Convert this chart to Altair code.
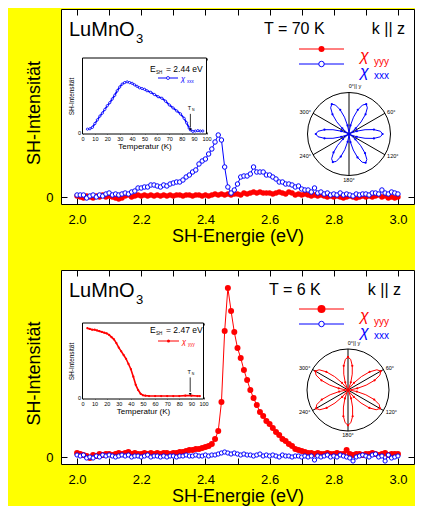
import altair as alt
import pandas as pd

RED = "#FF0000"
BLUE = "#0000FF"
FONT = "Liberation Sans"

# ---------------- main spectra (SH intensity, arbitrary units) ----------------
energy = [round(2.0 + 0.01 * i, 2) for i in range(101)]
tick_values = [2.0, 2.1, 2.2, 2.3, 2.4, 2.5, 2.6, 2.7, 2.8, 2.9, 3.0]

top_yyy = [0.01, 0.00, -0.01, 0.01, 0.00, -0.01, 0.01, 0.00, 0.02, 0.00,
           0.01, 0.00, -0.01, -0.02, -0.01, 0.01, 0.02, 0.00, 0.01, 0.02,
           0.01, 0.02, 0.01, 0.02, 0.01, 0.02, 0.01, 0.02, 0.01, 0.02,
           0.01, 0.02, 0.02, 0.01, 0.02, 0.02, 0.01, 0.02, 0.02, 0.01,
           0.02, 0.01, 0.02, 0.03, 0.02, 0.03, 0.02, 0.03, 0.02, 0.03,
           0.03, 0.02, 0.04, 0.03, 0.04, 0.05, 0.04, 0.05, 0.04, 0.04,
           0.04, 0.03, 0.04, 0.05, 0.04, 0.03, 0.05, 0.04, 0.02, 0.03,
           0.02, 0.03, 0.02, 0.01, 0.02, 0.01, 0.02, 0.01, 0.00, 0.01,
           0.00, 0.01, 0.00, -0.01, 0.00, 0.01, 0.00, -0.01, 0.00, 0.01,
           0.00, 0.01, 0.00, 0.01, 0.02, 0.00, 0.01, -0.01, 0.00, -0.01, 0.00]
top_xxx = [0.02, 0.02, 0.02, -0.01, 0.01, 0.02, 0.00, 0.02, 0.01, 0.03,
           0.04, 0.02, 0.03, 0.02, 0.03, 0.04, 0.03, 0.05, 0.06, 0.09,
           0.09, 0.10, 0.10, 0.12, 0.12, 0.11, 0.10, 0.12, 0.11, 0.13,
           0.14, 0.15, 0.15, 0.17, 0.20, 0.22, 0.25, 0.27, 0.33, 0.36,
           0.38, 0.43, 0.48, 0.55, 0.62, 0.57, 0.30, 0.10, 0.04, 0.07,
           0.13, 0.20, 0.21, 0.21, 0.23, 0.30, 0.25, 0.25, 0.25, 0.22,
           0.22, 0.20, 0.18, 0.15, 0.15, 0.13, 0.13, 0.12, 0.10, 0.11,
           0.08, 0.07, 0.07, 0.05, 0.09, 0.04, 0.05, 0.03, 0.04, 0.02,
           0.03, 0.02, 0.04, 0.02, 0.03, 0.02, 0.01, 0.03, 0.02, 0.03,
           0.03, 0.02, 0.04, 0.04, 0.03, 0.07, 0.04, 0.03, 0.05, 0.04, 0.03]
bot_yyy = [0.04, 0.03, 0.02, 0.01, -0.01, 0.02, 0.01, 0.03, 0.02, 0.03,
           0.03, 0.02, 0.03, 0.04, 0.03, 0.04, 0.05, 0.03, 0.04, 0.03,
           0.03, 0.04, 0.03, 0.04, 0.03, 0.04, 0.03, 0.04, 0.04, 0.03,
           0.04, 0.04, 0.05, 0.05, 0.06, 0.07, 0.07, 0.08, 0.08, 0.09,
           0.10, 0.11, 0.13, 0.18, 0.26, 0.55, 1.26, 1.69, 1.46, 1.25,
           1.09, 0.99, 0.87, 0.77, 0.67, 0.59, 0.52, 0.45, 0.41, 0.36,
           0.33, 0.29, 0.25, 0.22, 0.18, 0.16, 0.13, 0.11, 0.08, 0.07,
           0.06, 0.05, 0.04, 0.04, 0.03, 0.04, 0.03, 0.03, 0.04, 0.03,
           0.03, 0.04, 0.03, 0.03, 0.07, 0.03, 0.02, 0.03, 0.03, 0.02,
           0.03, 0.03, 0.04, 0.03, 0.02, 0.03, 0.04, 0.02, 0.03, 0.03, 0.03]
bot_xxx = [0.02, 0.01, 0.02, -0.01, 0.00, -0.01, 0.01, 0.00, 0.02, 0.01,
           0.02, 0.01, 0.00, 0.01, 0.02, 0.01, 0.02, 0.00, 0.01, 0.01,
           0.00, 0.01, 0.02, 0.00, 0.01, 0.01, 0.00, 0.01, 0.00, 0.01,
           0.01, 0.00, 0.01, 0.01, 0.02, 0.01, 0.01, 0.02, 0.01, 0.01,
           0.02, 0.01, 0.02, 0.02, 0.03, 0.04, 0.05, 0.04, 0.03, 0.04,
           0.03, 0.02, 0.03, 0.02, 0.02, 0.01, 0.02, 0.03, 0.01, 0.02,
           0.01, 0.02, 0.01, 0.00, 0.02, 0.01, 0.01, 0.00, 0.01, 0.01,
           0.00, 0.01, 0.00, 0.01, -0.03, 0.01, 0.00, 0.01, 0.02, 0.00,
           0.01, 0.00, 0.02, 0.01, 0.00, -0.01, -0.04, 0.00, 0.01, 0.02,
           0.01, 0.00, 0.02, 0.03, 0.00, 0.01, -0.04, 0.02, -0.01, 0.00, 0.01]

# ---------------- inset temperature dependences ----------------
temp_top = [4, 6, 8, 10, 12, 14, 16, 18, 20, 22, 24, 26, 28, 30, 32, 34, 36, 38, 40,
            42, 44, 46, 48, 50, 52, 55, 58, 61, 64, 67, 70, 73, 76, 79, 82, 84, 86,
            87, 89, 91, 93, 95, 97]
int_top = [0.045, 0.05, 0.07, 0.12, 0.17, 0.22, 0.26, 0.31, 0.36, 0.40, 0.45, 0.50,
           0.56, 0.61, 0.65, 0.67, 0.68, 0.67, 0.66, 0.64, 0.62, 0.60, 0.59, 0.58,
           0.56, 0.54, 0.51, 0.48, 0.46, 0.42, 0.37, 0.33, 0.29, 0.25, 0.19, 0.13,
           0.06, 0.035, 0.015, 0.02, 0.025, 0.02, 0.02]
temp_bot = [4, 6, 8, 10, 12, 14, 16, 18, 20, 22, 24, 26, 28, 30, 32, 34, 36, 38, 40,
            42, 44, 46, 48, 50, 52, 55, 60, 65, 70, 75, 80, 85, 90, 95, 97]
int_bot = [0.93, 0.92, 0.91, 0.91, 0.90, 0.89, 0.88, 0.87, 0.86, 0.84, 0.81, 0.78,
           0.73, 0.67, 0.62, 0.57, 0.52, 0.45, 0.38, 0.28, 0.17, 0.10, 0.05, 0.03,
           0.025, 0.02, 0.02, 0.02, 0.02, 0.02, 0.02, 0.025, 0.025, 0.02, 0.02]

# ---------------- polar (azimuthal) dependences ----------------
rose_angle = list(range(0, 361, 5))
rose_top = [0.00, 0.06, 0.21, 0.42, 0.62, 0.77, 0.83, 0.77, 0.62, 0.41, 0.21, 0.05,
            0.00, 0.05, 0.20, 0.40, 0.61, 0.76, 0.81, 0.76, 0.61, 0.40, 0.20, 0.05,
            0.00, 0.05, 0.20, 0.40, 0.60, 0.75, 0.80, 0.75, 0.60, 0.40, 0.20, 0.05,
            0.00, 0.05, 0.19, 0.39, 0.58, 0.73, 0.78, 0.73, 0.58, 0.39, 0.19, 0.05,
            0.00, 0.05, 0.20, 0.40, 0.60, 0.75, 0.80, 0.75, 0.60, 0.40, 0.20, 0.05,
            0.00, 0.06, 0.21, 0.42, 0.62, 0.77, 0.83, 0.77, 0.62, 0.42, 0.21, 0.06,
            0.00]
rose_bot = [0.80, 0.75, 0.60, 0.40, 0.20, 0.05, 0.00, 0.06, 0.23, 0.46, 0.69, 0.86,
            0.92, 0.86, 0.69, 0.46, 0.23, 0.06, 0.00, 0.06, 0.22, 0.45, 0.68, 0.84,
            0.90, 0.84, 0.68, 0.45, 0.22, 0.06, 0.00, 0.06, 0.22, 0.43, 0.65, 0.80,
            0.86, 0.80, 0.65, 0.43, 0.22, 0.06, 0.00, 0.06, 0.22, 0.45, 0.68, 0.84,
            0.90, 0.84, 0.68, 0.45, 0.22, 0.06, 0.00, 0.06, 0.23, 0.46, 0.69, 0.86,
            0.92, 0.86, 0.69, 0.46, 0.23, 0.06, 0.00, 0.05, 0.20, 0.40, 0.60, 0.75,
            0.80]
axis_angles = [0, 60, 120]
label_angles = [0, 60, 120, 180, 240, 300]
label_texts = ["0°|| y", "60°", "120°", "180°", "240°", "300°"]

W = 353
ONE = pd.DataFrame({"k": [0]})


def vtext(txt, x, y, size, color="black", align="left", style="normal"):
    return alt.Chart(ONE).mark_text(text=txt, fontSize=size, color=color, align=align,
                                    baseline="alphabetic", font=FONT, fontStyle=style).encode(
        x=alt.value(x), y=alt.value(y))


def build_panel(H, ydom, yyy, xxx, rsize, bsize, c):
    df = pd.DataFrame({"E": energy, "yyy": yyy, "xxx": xxx})

    def sx():
        return alt.Scale(domain=[1.95, 3.05], nice=False, zero=False)

    def sy():
        return alt.Scale(domain=ydom, nice=False, zero=False)

    b = c["box"]

    def ix():
        return alt.Scale(domain=[0, 100], range=[b[0], b[1]], nice=False, zero=False)

    def iy():
        return alt.Scale(domain=[-0.02, 1.0], range=[b[3], b[2]], nice=False, zero=False)

    cx, cy, r = c["polar"]

    def px():
        return alt.Scale(domain=[-1, 1], range=[cx - r, cx + r], nice=False, zero=False)

    def py():
        return alt.Scale(domain=[-1, 1], range=[cy + r, cy - r], nice=False, zero=False)

    layers = []

    # inset frame (+ top ticks)
    fdf = pd.DataFrame({"a": [0], "b": [100], "c": [-0.02], "d": [1.0]})
    layers.append(alt.Chart(fdf).mark_rect(fill="white", stroke="black", strokeWidth=1).encode(
        x=alt.X("a:Q", scale=ix(), axis=alt.Axis(orient="top", values=list(range(0, 101, 10)),
                                                  labels=False, offset=-(b[2] + 2), tickSize=2,
                                                  tickWidth=0.7, title=None)),
        x2="b:Q",
        y=alt.Y("c:Q", scale=iy(), axis=None),
        y2="d:Q"))

    # inset curve
    idf = pd.DataFrame({"T": c["T"], "I": c["I"]})
    icol = c["icolor"]
    if c["ifilled"]:
        ipt = alt.OverlayMarkDef(filled=True, color=icol, size=5)
    else:
        ipt = alt.OverlayMarkDef(filled=True, fill="white", stroke=icol, strokeWidth=0.8, size=5)
    layers.append(alt.Chart(idf).mark_line(color=icol, strokeWidth=1.6, point=ipt).encode(
        x=alt.X("T:Q", scale=ix(), axis=alt.Axis(
            orient="bottom", values=list(range(0, 101, 10)), offset=b[3] - 2 - H, tickSize=2,
            tickWidth=0.7, labelFontSize=5.5, labelPadding=2, title="Temperatur (K)",
            titleFontSize=8, titlePadding=1)),
        y=alt.Y("I:Q", scale=iy(), axis=alt.Axis(
            orient="left", values=[0], offset=-(b[0] + 2), tickSize=2, tickWidth=0.7,
            labelFontSize=5.5, labelPadding=2, title="SH-Intensität", titleFontSize=6.5,
            titlePadding=3))))

    # T_N arrow
    tn_T, tn_tail, tn_head, tn_lab = c["tn"]
    adf = pd.DataFrame({"T": [tn_T], "y0": [tn_tail], "y1": [tn_head + 0.03], "yh": [tn_head],
                        "yl": [tn_lab]})
    layers.append(alt.Chart(adf).mark_rule(color="black", strokeWidth=0.8).encode(
        x=alt.X("T:Q", scale=ix(), axis=None), y=alt.Y("y0:Q", scale=iy(), axis=None), y2="y1:Q"))
    layers.append(alt.Chart(adf).mark_point(shape="triangle-down", filled=True, color="black",
                                            size=8, opacity=1).encode(
        x=alt.X("T:Q", scale=ix(), axis=None), y=alt.Y("yh:Q", scale=iy(), axis=None)))
    layers.append(alt.Chart(adf).mark_text(text="T", fontSize=5.5, align="center",
                                           baseline="alphabetic", dx=-1).encode(
        x=alt.X("T:Q", scale=ix(), axis=None), y=alt.Y("yl:Q", scale=iy(), axis=None)))
    layers.append(alt.Chart(adf).mark_text(text="N", fontSize=3.5, align="left",
                                           baseline="alphabetic", dx=1.5, dy=1).encode(
        x=alt.X("T:Q", scale=ix(), axis=None), y=alt.Y("yl:Q", scale=iy(), axis=None)))

    # inset legend
    ex, ey = c["eleg"]
    layers.append(vtext("E", ex, ey, 8.5))
    layers.append(vtext("SH", ex + 6, ey + 2, 4.5))
    layers.append(vtext(c["etext"], ex + 16, ey, 8.5))
    lx0, lx1, ly = c["ileg"]
    layers.append(alt.Chart(ONE).mark_rule(color=icol, strokeWidth=1).encode(
        x=alt.value(lx0), x2=alt.value(lx1), y=alt.value(ly)))
    if c["ifilled"]:
        layers.append(alt.Chart(ONE).mark_point(filled=True, color=icol, size=9, opacity=1).encode(
            x=alt.value((lx0 + lx1) / 2), y=alt.value(ly)))
    else:
        layers.append(alt.Chart(ONE).mark_point(filled=True, fill="white", stroke=icol,
                                                strokeWidth=0.8, size=9, opacity=1).encode(
            x=alt.value((lx0 + lx1) / 2), y=alt.value(ly)))
    layers.append(vtext("χ", lx1 + 3, ly + 3, 7.5, icol, style="italic"))
    layers.append(vtext(c["isub"], lx1 + 9, ly + 5, 4.5, icol))

    # polar plot
    layers.append(alt.Chart(ONE).mark_point(shape="circle", filled=False, color="black",
                                            strokeWidth=1, size=(2 * r) ** 2, opacity=1).encode(
        x=alt.X("k:Q", scale=px(), axis=None), y=alt.Y("k:Q", scale=py(), axis=None)))
    ldf = pd.DataFrame({"a": axis_angles})
    layers.append(alt.Chart(ldf).transform_calculate(
        x1="sin(datum.a*PI/180)", y1="cos(datum.a*PI/180)",
        x2="-sin(datum.a*PI/180)", y2="-cos(datum.a*PI/180)").mark_rule(
        color="black", strokeWidth=1).encode(
        x=alt.X("x1:Q", scale=px(), axis=None), y=alt.Y("y1:Q", scale=py(), axis=None),
        x2="x2:Q", y2="y2:Q"))
    rdf = pd.DataFrame({"ang": rose_angle, "r": c["rose"]})
    rose = alt.Chart(rdf).transform_calculate(
        px="datum.r*sin(datum.ang*PI/180)", py="datum.r*cos(datum.ang*PI/180)")
    layers.append(rose.mark_line(color=c["pcolor"], strokeWidth=1).encode(
        x=alt.X("px:Q", scale=px(), axis=None), y=alt.Y("py:Q", scale=py(), axis=None),
        order="ang:Q"))
    layers.append(rose.transform_filter("datum.ang % 10 == 0 && datum.r > 0.15").mark_point(
        filled=True, color=c["pcolor"], size=5, opacity=1).encode(
        x=alt.X("px:Q", scale=px(), axis=None), y=alt.Y("py:Q", scale=py(), axis=None)))
    tdf = pd.DataFrame({"a": label_angles, "t": label_texts})
    lab = alt.Chart(tdf).transform_calculate(
        lx="1.06*sin(datum.a*PI/180)", ly="1.06*cos(datum.a*PI/180)")
    for flt, al, bl, extra in [("datum.a == 60 || datum.a == 120", "left", "middle", 0),
                               ("datum.a == 240 || datum.a == 300", "right", "middle", 0),
                               ("datum.a == 0", "center", "alphabetic", 6),
                               ("datum.a == 180", "center", "top", 0)]:
        layers.append(lab.transform_filter(flt).mark_text(
            fontSize=5.5, align=al, baseline=bl, dx=extra, dy=-2 if bl == "alphabetic" else 0,
            color="black").encode(
            x=alt.X("lx:Q", scale=px(), axis=None), y=alt.Y("ly:Q", scale=py(), axis=None),
            text="t:N"))

    # main spectra
    layers.append(alt.Chart(df).mark_line(
        color=RED, strokeWidth=1,
        point=alt.OverlayMarkDef(filled=True, color=RED, size=rsize, opacity=1)).encode(
        x=alt.X("E:Q", scale=sx(), axis=alt.Axis(
            orient="bottom", values=tick_values,
            labelExpr="(round(datum.value*10) % 2 == 0) ? format(datum.value, '.1f') : ''",
            offset=-6, tickSize=6, labelPadding=9, labelFontSize=13,
            title="SH-Energie (eV)", titleFontSize=18, titlePadding=1)),
        y=alt.Y("yyy:Q", scale=sy(), axis=alt.Axis(
            orient="left", values=[0], offset=-6, tickSize=6, labelPadding=8, labelFontSize=13,
            title="SH-Intensität", titleFontSize=18, titlePadding=2, titleY=H / 2 + 6))))
    layers.append(alt.Chart(df).mark_line(
        color=BLUE, strokeWidth=1,
        point=alt.OverlayMarkDef(filled=True, fill="white", stroke=BLUE, strokeWidth=1,
                                 size=bsize, opacity=1)).encode(
        x=alt.X("E:Q", scale=sx(), axis=alt.Axis(
            orient="top", values=tick_values, labels=False, offset=-6, tickSize=6, title=None)),
        y=alt.Y("xxx:Q", scale=sy(), axis=alt.Axis(
            orient="right", values=[0], labels=False, offset=-6, tickSize=6, title=None))))

    # main legend
    ry, by = c["mleg"]
    layers.append(alt.Chart(ONE).mark_rule(color=RED, strokeWidth=1).encode(
        x=alt.value(238), x2=alt.value(283), y=alt.value(ry)))
    layers.append(alt.Chart(ONE).mark_point(filled=True, color=RED, size=c["lr"], opacity=1).encode(
        x=alt.value(260.5), y=alt.value(ry)))
    layers.append(alt.Chart(ONE).mark_rule(color=BLUE, strokeWidth=1).encode(
        x=alt.value(238), x2=alt.value(283), y=alt.value(by)))
    layers.append(alt.Chart(ONE).mark_point(filled=True, fill="white", stroke=BLUE, strokeWidth=1,
                                            size=30, opacity=1).encode(
        x=alt.value(260.5), y=alt.value(by)))
    layers.append(vtext("χ", 299, ry + 12, 16, RED, style="italic"))
    layers.append(vtext("yyy", 313, ry + 16, 10, RED))
    layers.append(vtext("χ", 299, by + 13, 16, BLUE, style="italic"))
    layers.append(vtext("xxx", 313, by + 15, 10, BLUE))

    # headings
    layers.append(vtext("LuMnO", 8, 27, 20))
    layers.append(vtext("3", 75, 34, 13))
    layers.append(vtext(c["temp"], c["tx"], 25, 16))
    layers.append(vtext("k || z", c["kx"], 25, 16, align="right"))

    return alt.layer(*layers).resolve_scale(x="independent", y="independent").properties(
        width=W, height=H)


top_cfg = dict(box=[21.5, 145.5, 49, 125], T=temp_top, I=int_top, icolor=BLUE, ifilled=False,
               tn=(87, 0.25, 0.04, 0.30), eleg=(89, 63), etext="= 2.44 eV",
               ileg=(97, 117, 69), isub="xxx", polar=(288, 125, 41.5), rose=rose_top,
               pcolor=BLUE, mleg=(40, 55), lr=36, temp="T = 70 K", tx=203, kx=344)
bot_cfg = dict(box=[21.5, 142.5, 53, 129], T=temp_bot, I=int_bot, icolor=RED, ifilled=True,
               tn=(89, 0.27, 0.045, 0.32), eleg=(89, 63), etext="= 2.47 eV",
               ileg=(97, 118, 71), isub="yyy", polar=(287, 120, 41), rose=rose_bot,
               pcolor=RED, mleg=(39, 54), lr=64, temp="T = 6 K", tx=208, kx=340)

top = build_panel(195, [-0.07, 1.88], top_yyy, top_xxx, 30, 20, top_cfg)
bottom = build_panel(194, [-0.07, 1.87], bot_yyy, bot_xxx, 36, 18, bot_cfg)

chart = alt.vconcat(top, bottom, spacing=23).configure(
    background="#FFFF00", font=FONT, padding={"left": 17, "top": 0, "right": 0, "bottom": 0}
).configure_view(fill="white", stroke="black", strokeWidth=1).configure_axis(
    grid=False, domain=False, tickColor="black", labelColor="black", titleColor="black",
    titleFontWeight="normal", labelFlush=False, labelOverlap=False, labelFont=FONT,
    titleFont=FONT
).properties(usermeta={"embedOptions": {"defaultStyle": "body { background: #FFFF00; }"}})

chart.save("out.html", embed_options={"renderer": "svg", "actions": False})
